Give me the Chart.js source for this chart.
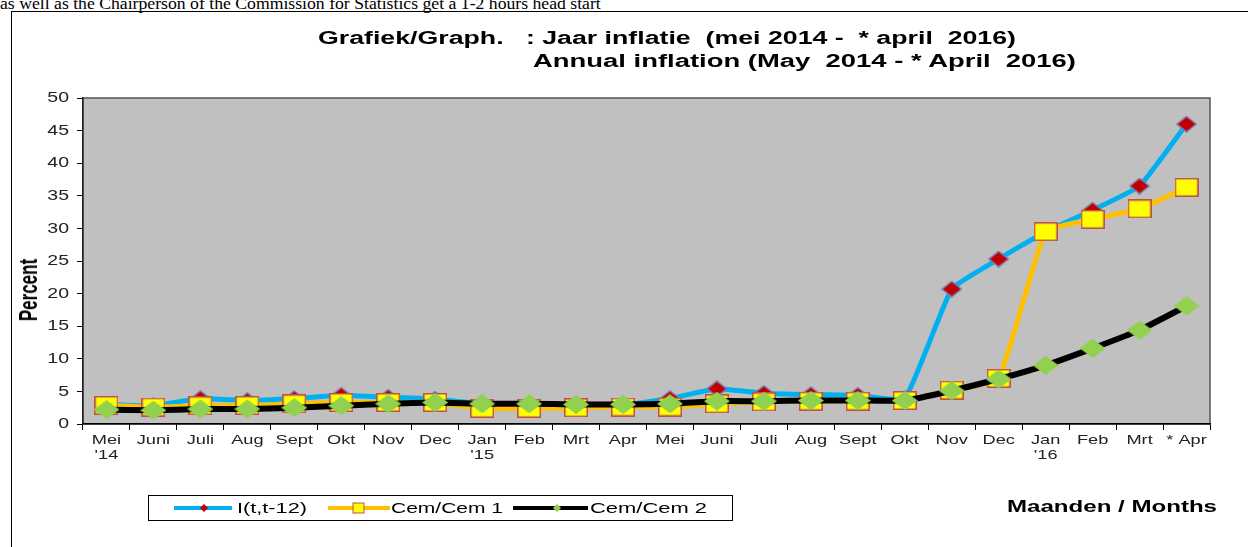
<!DOCTYPE html>
<html>
<head>
<meta charset="utf-8">
<script src="https://cdn.jsdelivr.net/npm/chart.js@4.4.1/dist/chart.umd.min.js"></script>
<style>
  html, body { margin: 0; padding: 0; background: #fff; }
  body { width: 1248px; height: 547px; position: relative; overflow: hidden; }
  #topline { position: absolute; left: 0; top: -7px; font: 17.7px "Liberation Serif", serif; color: #000; white-space: nowrap; }
  #frame { position: absolute; left: 11px; top: 11px; width: 1300px; height: 600px; border-left: 1px solid #000; border-top: 1px solid #000; }
  #wrap { position: absolute; left: 0; top: 0; width: 1248px; height: 547px; }
  .stretch { position: absolute; white-space: pre; transform-origin: 0 50%; color: #000; }
  .title { font: bold 18px "Liberation Sans", Arial, sans-serif; }
  #percent { position: absolute; left: 29px; top: 290px; width: 0; height: 0; }
  #percent span { position: absolute; left: 0; top: 0; font: bold 17px "Liberation Sans", Arial, sans-serif; color: #000;
                  white-space: nowrap; transform: translate(-50%, -50%) rotate(-90deg) scaleY(1.5); }
  #legend { position: absolute; left: 148px; top: 495px; width: 585px; height: 26px; border: 1px solid #000; box-sizing: border-box; }
  #legend svg { position: absolute; top: 5px; }
  #legend .stretch { top: 4px; font: 14px "Liberation Sans", Arial, sans-serif; }
  #months { font: bold 16px "Liberation Sans", Arial, sans-serif; }
</style>
</head>
<body>
<div id="topline">as well as the Chairperson of the Commission for Statistics get a 1-2 hours head start</div>
<div id="frame"></div>
<div id="wrap"><canvas id="myChart" width="1248" height="547"></canvas></div>
<div class="stretch title" data-w="698" style="left:318px; top:28px;">Grafiek/Graph.   : Jaar inflatie  (mei 2014 -  * april  2016)</div>
<div class="stretch title" data-w="543" style="left:533px; top:51px;">Annual inflation (May  2014 - * April  2016)</div>
<div id="percent"><span>Percent</span></div>
<div id="legend">
  <svg width="58" height="14" style="left:25px;"><line x1="0" y1="7" x2="58" y2="7" stroke="#00B0F0" stroke-width="4"/><polygon points="30,3 34,7 30,11 26,7" fill="#C00000"/></svg>
  <div class="stretch" data-w="70" style="left:88px;">I(t,t-12)</div>
  <svg width="62" height="14" style="left:179px;"><line x1="0" y1="7" x2="62" y2="7" stroke="#FFC000" stroke-width="4"/><rect x="25" y="2" width="11" height="10" fill="#FFFF00" stroke="#C0504D" stroke-width="1"/></svg>
  <div class="stretch" data-w="112" style="left:242px;">Cem/Cem 1</div>
  <svg width="75" height="14" style="left:364px;"><line x1="0" y1="7" x2="75" y2="7" stroke="#000" stroke-width="4"/><polygon points="44,3 48,7 44,11 40,7" fill="#92D050"/></svg>
  <div class="stretch" data-w="117" style="left:441px;">Cem/Cem 2</div>
</div>
<div id="months" class="stretch" data-w="210" style="left:1007px; top:498px;">Maanden / Months</div>

<script>
// categorieen (maanden)
const months = [
    ['Mei', "'14"], 'Juni', 'Juli', 'Aug', 'Sept', 'Okt', 'Nov', 'Dec',
    ['Jan', "'15"], 'Feb', 'Mrt', 'Apr', 'Mei', 'Juni', 'Juli', 'Aug', 'Sept', 'Okt', 'Nov', 'Dec',
    ['Jan', "'16"], 'Feb', 'Mrt', '* Apr'
];

// I(t,t-12)
const inflIt = [3.0, 2.8, 3.9, 3.6, 3.9, 4.4, 4.1, 3.8, 3.1, 3.0, 3.0, 2.9,
                3.9, 5.4, 4.7, 4.5, 4.4, 3.9, 20.7, 25.3, 29.5, 32.8, 36.5, 46.0];
// Cem/Cem 1
const cem1 = [2.85, 2.6, 2.8, 2.85, 3.1, 3.3, 3.3, 3.3, 2.4, 2.4, 2.5, 2.6,
              2.6, 3.1, 3.4, 3.5, 3.5, 3.6, 5.2, 7.0, 29.5, 31.4, 33.0, 36.3];
// Cem/Cem 2
const cem2 = [2.2, 2.1, 2.3, 2.3, 2.5, 2.8, 3.1, 3.3, 3.1, 3.1, 3.0, 3.0,
              3.1, 3.5, 3.5, 3.6, 3.6, 3.6, 5.1, 6.9, 9.0, 11.6, 14.4, 18.1];

const yTicks = { min: 0, max: 50, step: 5 };

// html teksten iets breder trekken (origineel is horizontaal uitgerekt)
document.querySelectorAll('.stretch').forEach(el => {
    const w = el.getBoundingClientRect().width;
    el.style.transform = 'scaleX(' + (el.dataset.w / w) + ')';
});

// markers als kleine canvasjes (breder dan hoog, zoals in het origineel)
function marker(shape, w, h, fill, stroke, lw) {
    const c = document.createElement('canvas');
    c.width = w; c.height = h;
    const g = c.getContext('2d');
    g.fillStyle = fill;
    g.strokeStyle = stroke;
    g.lineWidth = lw;
    g.beginPath();
    if (shape === 'diamond') {
        g.moveTo(w / 2, lw / 2);
        g.lineTo(w - lw / 2, h / 2);
        g.lineTo(w / 2, h - lw / 2);
        g.lineTo(lw / 2, h / 2);
        g.closePath();
    } else {
        g.rect(lw / 2, lw / 2, w - lw, h - lw);
    }
    g.fill();
    if (lw > 0) g.stroke();
    return c;
}

// grijze achtergrond + rand van het plotgebied
const plotBg = {
    id: 'plotBg',
    beforeDraw(chart) {
        const { ctx, chartArea: a } = chart;
        ctx.save();
        ctx.fillStyle = '#C0C0C0';
        ctx.fillRect(a.left, a.top, a.right - a.left, a.bottom - a.top);
        ctx.strokeStyle = '#555';
        ctx.lineWidth = 1.5;
        ctx.strokeRect(a.left, a.top, a.right - a.left, a.bottom - a.top);
        ctx.restore();
    }
};

// as-labels zelf tekenen, horizontaal uitgerekt
const stretchedTicks = {
    id: 'stretchedTicks',
    afterDraw(chart) {
        const ctx = chart.ctx;
        const xs = chart.scales.x, ys = chart.scales.y;
        ctx.save();
        ctx.fillStyle = '#222';
        ctx.font = '13px "Liberation Sans", Arial, sans-serif';
        ctx.textAlign = 'center';
        ctx.textBaseline = 'top';
        xs.ticks.forEach((t, i) => {
            const lbl = [].concat(months[i]);
            const x = xs.getPixelForTick(i);
            lbl.forEach((s, j) => {
                ctx.save();
                ctx.translate(x, xs.top + 10 + j * 15);
                ctx.scale(1.4, 1);
                ctx.fillText(s, 0, 0);
                ctx.restore();
            });
        });
        ctx.font = '15px "Liberation Sans", Arial, sans-serif';
        ctx.textAlign = 'right';
        ctx.textBaseline = 'middle';
        ys.ticks.forEach((t, i) => {
            ctx.save();
            ctx.translate(ys.right - 14, ys.getPixelForTick(i));
            ctx.scale(1.3, 1);
            ctx.fillText(String(t.value), 0, 0);
            ctx.restore();
        });
        ctx.restore();
    }
};

const data = {
    labels: months,
    datasets: [{
        label: 'I(t,t-12)',
        data: inflIt,
        borderColor: '#00B0F0',
        borderWidth: 5,
        pointStyle: marker('diamond', 21, 17, '#C00000', '#7B7FB8', 1.5),
        pointRadius: 10,
        tension: 0.12,
        order: 3
    }, {
        label: 'Cem/Cem 1',
        data: cem1,
        borderColor: '#FFC000',
        borderWidth: 5,
        pointStyle: marker('rect', 24, 19, '#FFFF00', '#C0504D', 1.5),
        pointRadius: 12,
        tension: 0.12,
        order: 2
    }, {
        label: 'Cem/Cem 2',
        data: cem2,
        borderColor: '#000000',
        borderWidth: 6,
        pointStyle: marker('diamond', 26, 19, '#92D050', '#92D050', 0),
        pointRadius: 12,
        tension: 0.12,
        order: 1
    }]
};

const config = {
    type: 'line',
    data: data,
    plugins: [plotBg, stretchedTicks],
    options: {
        responsive: false,
        animation: false,
        layout: { padding: { left: 13, top: 98, right: 38, bottom: 83 } },
        plugins: {
            legend: { display: false },
            tooltip: { enabled: false }
        },
        scales: {
            x: {
                offset: true,
                afterFit(scale) { scale.height = 40; },
                grid: { offset: true, drawOnChartArea: false, tickLength: 6, color: '#000' },
                border: { color: '#000', width: 1.5 },
                ticks: { display: false, autoSkip: false, maxRotation: 0 }
            },
            y: {
                min: yTicks.min,
                max: yTicks.max,
                afterFit(scale) { scale.width = 70; },
                grid: { drawOnChartArea: false, tickLength: 6, color: '#000' },
                border: { color: '#222', width: 1.5 },
                ticks: { display: false, stepSize: yTicks.step }
            }
        }
    }
};

const myChart = new Chart(document.getElementById('myChart'), config);
</script>
</body>
</html>
